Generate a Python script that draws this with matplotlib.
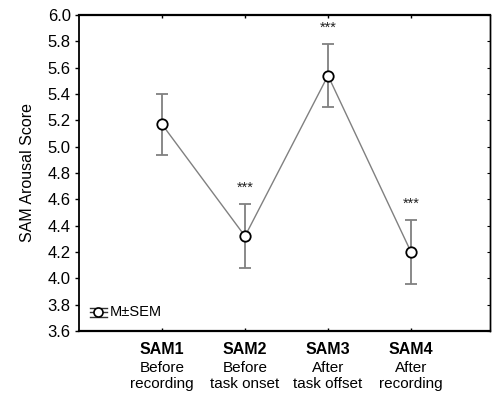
import numpy as np
import matplotlib.pyplot as plt
from matplotlib.transforms import blended_transform_factory

plt.rcParams['font.family'] = ['Liberation Sans', 'DejaVu Sans']

# data
conds = ['SAM1', 'SAM2', 'SAM3', 'SAM4']
descr = ['Before\nrecording', 'Before\ntask onset', 'After\ntask offset', 'After\nrecording']
means = [5.17, 4.32, 5.54, 4.20]
sem = [0.23, 0.245, 0.24, 0.245]
stars = ['', '***', '***', '***']
yticks = np.round(np.arange(3.6, 6.01, 0.2), 1)

fig = plt.figure(figsize=(4.92, 3.94), dpi=100)
ax = fig.add_axes([79/492, 1 - 331/394, 411/492, 316/394])

x = np.arange(1, len(means) + 1)
ax.errorbar(x, means, yerr=sem, color='#808080', lw=1, elinewidth=1.3,
            capsize=4, capthick=1.3, marker='o', ms=7.5, mfc='white',
            mec='black', mew=1.3, zorder=3)

for xi, m, s, st in zip(x, means, sem, stars):
    if st:
        ax.text(xi, m + s + 0.07, st, ha='center', va='bottom', fontsize=10.5, color='#222222')

ax.set_xlim(0, 411/83)
ax.set_ylim(3.6, 6.0)
ax.set_yticks(yticks)
ax.set_yticklabels([f'{v:.1f}' for v in yticks], fontsize=12)
ax.set_xticks(x)
ax.set_xticklabels([])
ax.tick_params(axis='y', direction='out', length=3, width=1, pad=3)
ax.tick_params(axis='x', direction='in', length=2, width=1, top=True)
ax.spines['bottom'].set_linewidth(1.6)
ax.spines['top'].set_linewidth(1.6)
ax.spines['left'].set_linewidth(1.3)
ax.spines['right'].set_linewidth(1.0)

# inward ticks on right side
sec = ax.secondary_yaxis('right')
sec.set_yticks(yticks)
sec.tick_params(direction='in', length=2, labelright=False)
sec.spines['right'].set_linewidth(1.0)

ax.set_ylabel('SAM Arousal Score', fontsize=11.5, labelpad=9)

tr = blended_transform_factory(ax.transData, ax.transAxes)
for xi, c, d in zip(x, conds, descr):
    ax.text(xi, -0.035, c, transform=tr, ha='center', va='top', fontsize=11.5, fontweight='bold')
    ax.text(xi, -0.095, d, transform=tr, ha='center', va='top', fontsize=11, linespacing=1.15)

# legend symbol drawn by hand: circle with whisker lines
lx0, lx1, ly = 0.026, 0.068, 0.059
for dy in (-0.014, 0, 0.014):
    ax.plot([lx0, lx1], [ly + dy, ly + dy], transform=ax.transAxes, color='#333333', lw=1)
ax.plot([(lx0 + lx1) / 2], [ly], transform=ax.transAxes, marker='o', ms=6.5, mfc='white',
        mec='black', mew=1.2)
ax.text(lx1 + 0.006, ly, 'M±SEM', transform=ax.transAxes, ha='left', va='center', fontsize=10.5)

fig.savefig('out.png', dpi=100)
